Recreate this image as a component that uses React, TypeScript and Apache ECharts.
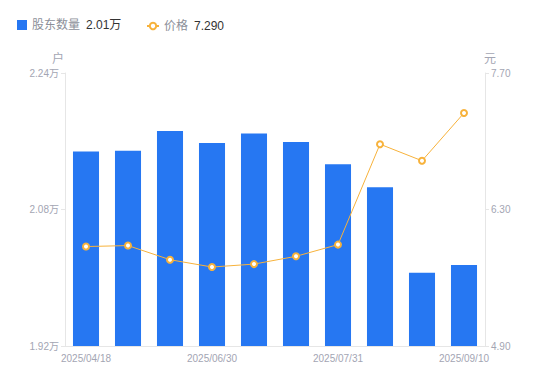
import React, { useEffect, useRef } from "react";
import * as echarts from "echarts";

const categories = [
  "2025/04/18",
  "2025/04/30",
  "2025/05/30",
  "2025/06/30",
  "2025/07/10",
  "2025/07/20",
  "2025/07/31",
  "2025/08/20",
  "2025/08/31",
  "2025/09/10",
];
const holders = [2.148, 2.149, 2.172, 2.158, 2.169, 2.159, 2.133, 2.106, 2.006, 2.015];
const prices = [5.92, 5.93, 5.785, 5.71, 5.74, 5.82, 5.94, 6.97, 6.8, 7.29];
const leftTicks = [1.92, 2.08, 2.24];
const rightTicks = [4.9, 6.3, 7.7];
const holderLatest = "2.01万";
const priceLatest = "7.290";

const labelColor = "#a3a5b3";
const axisLineColor = "#e6e6e6";

export default function App() {
  const ref = useRef<HTMLDivElement>(null);
  useEffect(() => {
    document.body.style.margin = "0";
    if (!ref.current) return;
    const chart = echarts.init(ref.current, null, { renderer: "svg" });
    const legendRich = {
      n: { color: "#8c8f99", fontSize: 12, fontFamily: "Liberation Sans, Noto Sans CJK SC" },
      v: { color: "#333333", fontSize: 12, fontFamily: "Liberation Sans, Noto Sans CJK SC", padding: [0, 0, 0, 6] },
    };
    chart.setOption({
      animation: false,
      legend: [
        {
          left: 12,
          top: 14,
          itemWidth: 10,
          itemHeight: 10,
          data: [{ name: "股东数量", icon: "rect" }],
          formatter: (n: string) => `{n|${n}}{v|${holderLatest}}`,
          textStyle: { rich: legendRich },
        },
        {
          left: 141,
          top: 15,
          itemWidth: 12,
          itemHeight: 8,
          data: [{ name: "价格" }],
          formatter: (n: string) => `{n|${n}}{v|${priceLatest}}`,
          textStyle: { rich: legendRich },
        },
      ],
      grid: { left: 65, right: 65, top: 73, bottom: 35 },
      xAxis: {
        type: "category",
        data: categories,
        axisLine: { lineStyle: { color: axisLineColor } },
        axisTick: { show: false },
        axisLabel: {
          interval: 2,
          color: labelColor,
          fontSize: 10,
          fontFamily: "Liberation Sans",
          margin: 7,
        },
      },
      yAxis: [
        {
          type: "value",
          min: 1.92,
          max: 2.24,
          name: "户",
          nameGap: 10,
          nameTextStyle: { color: labelColor, fontSize: 12, padding: [0, 14, 0, 0], fontFamily: "Noto Sans CJK SC" },
          axisLine: { show: true, lineStyle: { color: axisLineColor } },
          axisTick: { show: true, length: 4, customValues: leftTicks, lineStyle: { color: axisLineColor } },
          splitLine: { show: false },
          axisLabel: {
            customValues: leftTicks,
            color: labelColor,
            fontSize: 10,
            fontFamily: "Liberation Sans, Noto Sans CJK SC",
            margin: 6,
            formatter: (v: number) => v.toFixed(2) + "万",
          },
        },
        {
          type: "value",
          min: 4.9,
          max: 7.7,
          name: "元",
          nameGap: 10,
          nameTextStyle: { color: labelColor, fontSize: 12, padding: [0, 0, 0, 10], fontFamily: "Noto Sans CJK SC" },
          axisLine: { show: true, lineStyle: { color: axisLineColor } },
          axisTick: { show: true, length: 4, customValues: rightTicks, lineStyle: { color: axisLineColor } },
          splitLine: { show: false },
          axisLabel: {
            customValues: rightTicks,
            color: labelColor,
            fontSize: 10,
            fontFamily: "Liberation Sans",
            margin: 6,
            formatter: (v: number) => v.toFixed(2),
          },
        },
      ],
      series: [
        {
          name: "股东数量",
          type: "bar",
          data: holders,
          barWidth: "62%",
          itemStyle: { color: "#2677F2" },
        },
        {
          name: "价格",
          type: "line",
          yAxisIndex: 1,
          data: prices,
          symbol: "emptyCircle",
          symbolSize: 6,
          lineStyle: { color: "#F7B23B", width: 1 },
          itemStyle: { color: "#F7B23B", borderWidth: 2 },
        },
      ],
    });
    return () => chart.dispose();
  }, []);
  return <div ref={ref} style={{ width: 550, height: 381 }} />;
}
